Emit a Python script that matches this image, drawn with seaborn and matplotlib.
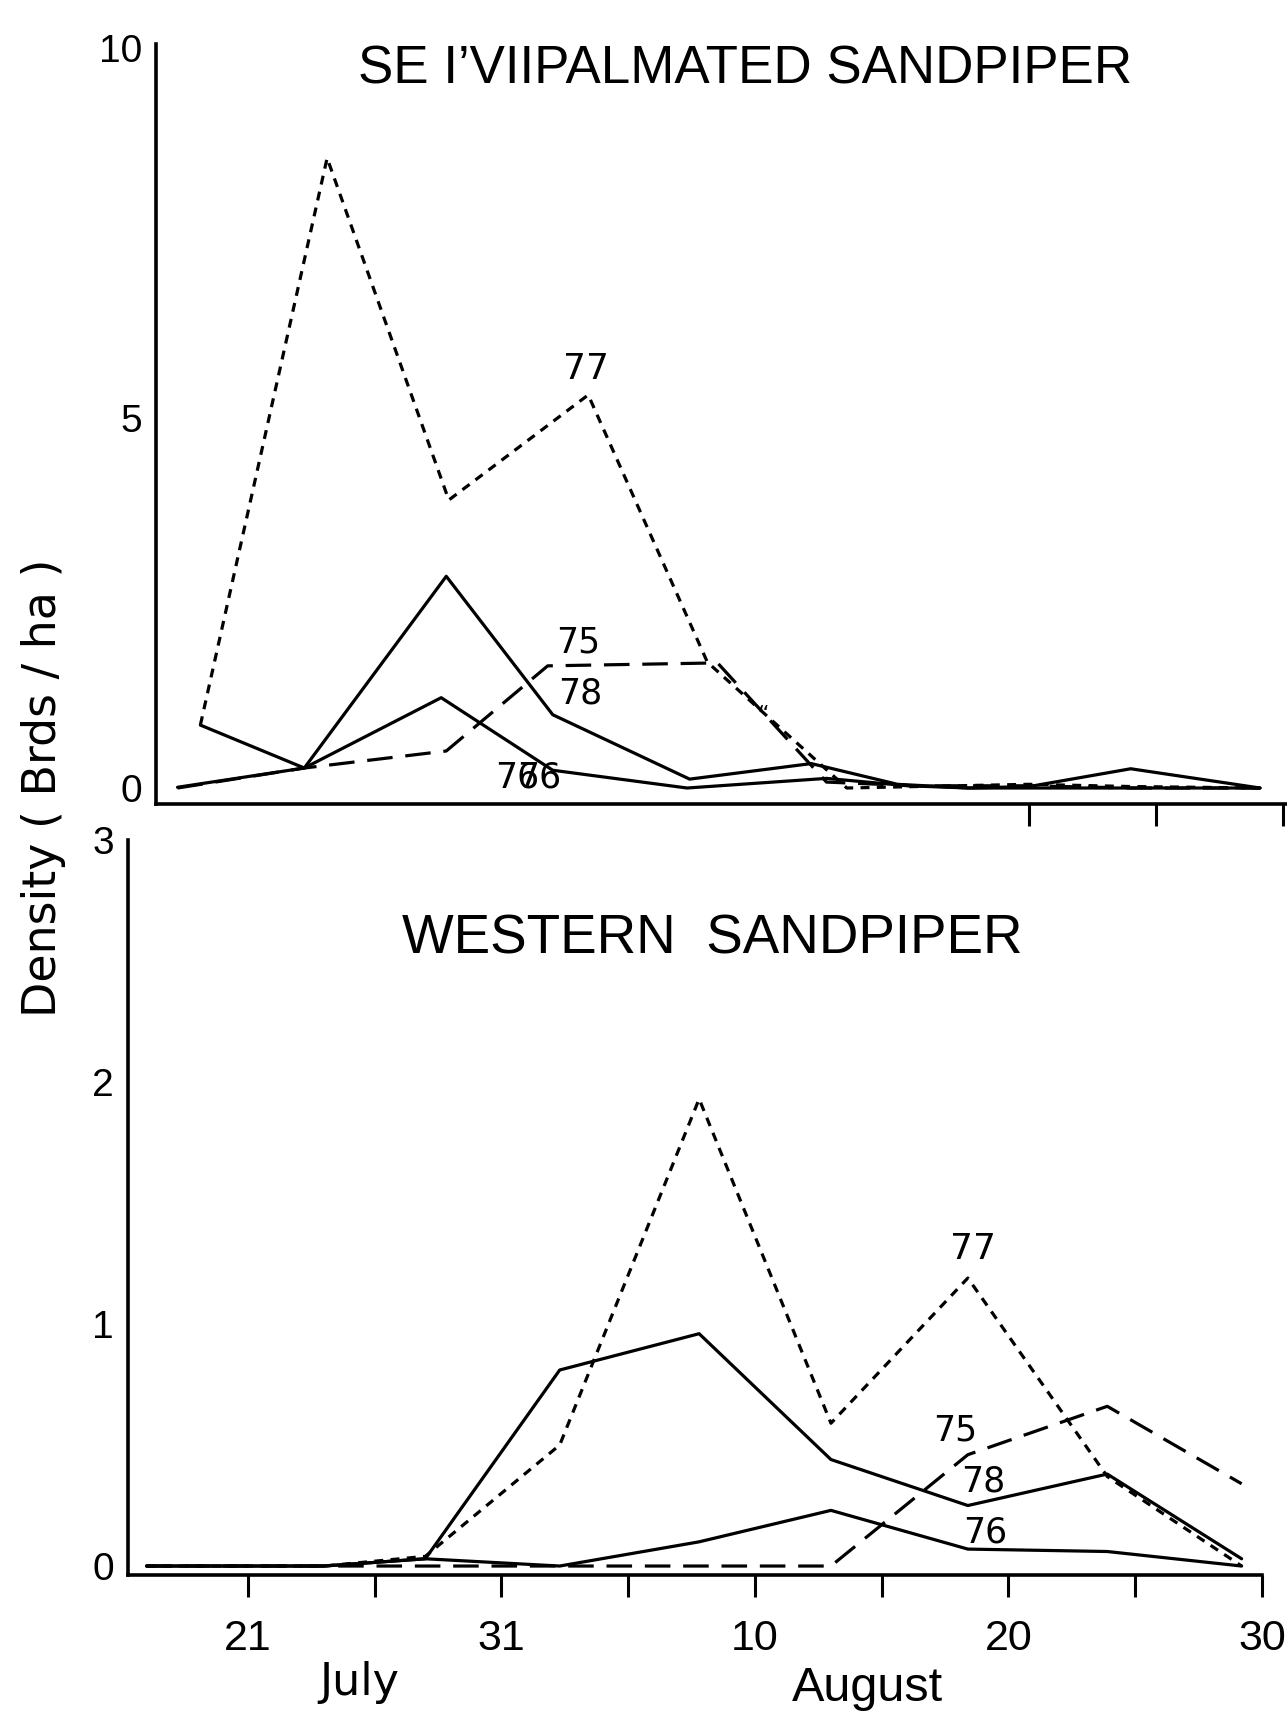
import numpy as np
import pandas as pd
import matplotlib
matplotlib.use("Agg")
import matplotlib.pyplot as plt
import seaborn as sns
from matplotlib import font_manager as fm

# ---------------- data (day = day counted from 0 July; 32 = 1 August) ----------------
# Semipalmated sandpiper (top panel)
top_days_75 = [17.4, 22.4, 28.0, 32.0, 38.7, 43.0, 46.5, 51.0, 55.0, 60.1]
top_dens_75 = [0.00, 0.27, 0.50, 1.65, 1.69, 0.08, 0.03, 0.03, 0.00, 0.00]
top_days_76 = [17.4, 22.4, 27.8, 32.2, 37.5, 43.0, 46.2, 48.6, 51.0, 55.0, 60.1]
top_dens_76 = [0.01, 0.27, 1.22, 0.24, 0.00, 0.13, 0.03, 0.00, 0.00, 0.00, 0.00]
top_days_77 = [18.3, 23.3, 28.1, 33.6, 38.3, 43.8, 46.6, 51.0, 55.0, 60.1]
top_dens_77 = [0.85, 8.51, 3.89, 5.31, 1.70, 0.00, 0.02, 0.05, 0.02, 0.00]
top_days_78 = [18.3, 22.4, 28.0, 32.2, 37.6, 42.4, 45.8, 48.6, 51.0, 55.0, 60.1]
top_dens_78 = [0.85, 0.27, 2.86, 0.99, 0.12, 0.33, 0.05, 0.00, 0.02, 0.26, 0.00]

# Western sandpiper (bottom panel)
bot_days = [17.0, 24.0, 28.0, 33.3, 38.8, 44.0, 49.4, 54.9, 60.2]
bot_dens_75 = [0.00, 0.00, 0.00, 0.00, 0.00, 0.00, 0.46, 0.66, 0.34]
bot_dens_76 = [0.00, 0.00, 0.03, 0.00, 0.10, 0.23, 0.07, 0.06, 0.00]
bot_dens_77 = [0.00, 0.00, 0.04, 0.50, 1.93, 0.59, 1.19, 0.37, 0.00]
bot_dens_78 = [0.00, 0.00, 0.03, 0.81, 0.96, 0.44, 0.25, 0.38, 0.03]

years = ["75", "76", "77", "78"]
x_ticks = [21, 26, 31, 36, 41, 46, 51, 56, 61]
x_tick_labels = ["21", "", "31", "", "10", "", "20", "", "30"]
top_x_ticks = [51, 56, 61]
top_y_ticks = [0, 5, 10]
bot_y_ticks = [0, 1, 2, 3]

title_top = "SE I\u2019VIIPALMATED SANDPIPER"
title_bot = "WESTERN  SANDPIPER"
y_label = "Density ( Brds / ha )"

# ---------------- tables ----------------
def long_table(days_list, dens_list):
    rows = []
    for yr, d, v in zip(years, days_list, dens_list):
        for a, b in zip(d, v):
            rows.append((yr, a, b))
    return pd.DataFrame(rows, columns=["year", "day", "density"])

df_top = long_table([top_days_75, top_days_76, top_days_77, top_days_78],
                    [top_dens_75, top_dens_76, top_dens_77, top_dens_78])
df_bot = long_table([bot_days] * 4, [bot_dens_75, bot_dens_76, bot_dens_77, bot_dens_78])

# ---------------- style ----------------
sns.set_theme(style="ticks")
plt.rcParams["font.family"] = ["Liberation Sans", "DejaVu Sans"]
names = {f.name for f in fm.fontManager.ttflist}
narrow = "Liberation Sans Narrow" in names
title_family = ["Liberation Sans Narrow", "Liberation Sans", "DejaVu Sans"] if narrow else ["Liberation Sans", "DejaVu Sans"]
title_scale = 1.0 if narrow else 0.84

DASHES = {"75": (8, 4), "76": "", "77": (2.8, 2.3), "78": ""}

W, H = 1287, 1712
fig = plt.figure(figsize=(W / 100, H / 100), dpi=100)
fig.patch.set_facecolor("white")

ax_top = fig.add_axes([156 / W, 1 - 804 / H, 1135.7 / W, 760 / H])
ax_bot = fig.add_axes([128 / W, 1 - 1574.5 / H, 1133.9 / W, 734.5 / H])

for ax, df in ((ax_top, df_top), (ax_bot, df_bot)):
    sns.lineplot(data=df, x="day", y="density", style="year", dashes=DASHES,
                 color="black", linewidth=2.3, estimator=None, sort=False,
                 legend=False, ax=ax)
    ax.set_facecolor("white")
    for s in ("top", "right"):
        ax.spines[s].set_visible(False)
    for s in ("left", "bottom"):
        ax.spines[s].set_linewidth(2.6)
        ax.spines[s].set_color("black")
    ax.set_xlabel("")
    ax.set_ylabel("")
    ax.tick_params(axis="y", length=0, pad=10, labelsize=28, colors="black")
    ax.tick_params(axis="x", length=16, width=2.2, direction="out", colors="black")

ax_top.set_xlim(16.55, 61.35)
ax_top.set_ylim(-0.216, 10.05)
ax_top.set_xticks(top_x_ticks)
ax_top.set_xticklabels([])
ax_top.set_yticks(top_y_ticks)

ax_bot.set_xlim(16.27, 61.0)
ax_bot.set_ylim(-0.035, 3.0)
ax_bot.set_xticks(x_ticks)
ax_bot.set_xticklabels(x_tick_labels)
ax_bot.tick_params(axis="x", labelsize=31, pad=16)
ax_bot.set_yticks(bot_y_ticks)

# series labels
lab = dict(color="black", ha="center", va="center", family=["DejaVu Sans"])
ax_top.text(33.5, 5.66, "77", fontsize=26, **lab)
ax_top.text(33.2, 1.97, "75", fontsize=25, **lab)
ax_top.text(33.3, 1.27, "78", fontsize=25, **lab)
ax_top.text(30.8, 0.14, "76", fontsize=25, **lab)
ax_top.text(31.65, 0.14, "76", fontsize=25, **lab)
ax_top.text(40.5, 0.99, "\u201c", fontsize=16, **lab)

ax_bot.text(49.6, 1.31, "77", fontsize=26, **lab)
ax_bot.text(48.9, 0.56, "75", fontsize=25, **lab)
ax_bot.text(50.0, 0.35, "78", fontsize=25, **lab)
ax_bot.text(50.1, 0.14, "76", fontsize=25, **lab)

# titles and labels
fig.text(745 / W, 1 - 70 / H, title_top, ha="center", va="center",
         fontsize=42 * title_scale * 1.08, family=title_family, color="black")
fig.text(712 / W, 1 - 939 / H, title_bot, ha="center", va="center",
         fontsize=44 * title_scale * 1.066, family=title_family, color="black")
fig.text(44 / W, 1 - 788 / H, y_label, rotation=90, ha="center", va="center",
         fontsize=33, family=["DejaVu Sans"], color="black")
fig.text(359 / W, 1 - 1695 / H, "July", ha="center", va="baseline",
         fontsize=32, family=["DejaVu Sans"], color="black")
fig.text(867 / W, 1 - 1701 / H, "August", ha="center", va="baseline",
         fontsize=35, family=["Liberation Sans", "DejaVu Sans"], color="black")

fig.savefig("out.png", dpi=100, facecolor="white")
